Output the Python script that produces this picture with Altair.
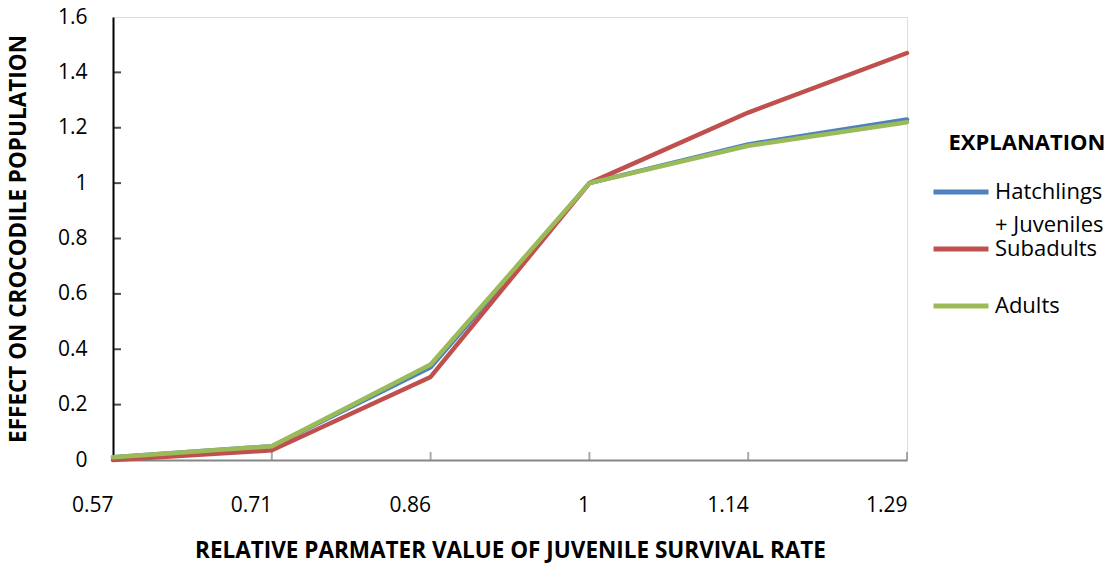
import altair as alt
import pandas as pd

# Relative parameter value of juvenile survival rate (x categories)
survival = ["0.57", "0.71", "0.86", "1", "1.14", "1.29"]

# Effect on crocodile population for each life stage
hatchlings = [0.01, 0.05, 0.335, 1.0, 1.14, 1.23]
subadults = [0.0, 0.035, 0.30, 1.0, 1.255, 1.47]
adults = [0.01, 0.05, 0.345, 1.0, 1.135, 1.22]

series_names = ["Hatchlings + Juveniles", "Subadults", "Adults"]
series_colors = ["#4F81BD", "#C0504D", "#9BBB59"]
y_ticks = [0, 0.2, 0.4, 0.6, 0.8, 1.0, 1.2, 1.4, 1.6]

rows = []
for name, vals in zip(series_names, [hatchlings, subadults, adults]):
    for s, v in zip(survival, vals):
        rows.append({"x": s, "effect": v, "stage": name})
df = pd.DataFrame(rows)

FONT = "Open Sans"
W, H = 794, 443

x_enc = alt.X(
    "x:N",
    sort=survival,
    scale=alt.Scale(type="point", padding=0),
    title="RELATIVE PARMATER VALUE OF JUVENILE SURVIVAL RATE",
    axis=alt.Axis(
        labelAngle=0,
        ticks=False,
        tickSize=0,
        labelPadding=34,
        labelBaseline="top",
        labelFontSize=21,
        labelColor="#000000",
        labelFont=FONT,
        domainColor="#868686",
        domainWidth=2,
        titleFont=FONT,
        titleFontSize=22.5,
        titleFontWeight="bold",
        titleColor="#000000",
        titlePadding=24,
    ),
)

y_scale = alt.Scale(domain=[0, 1.6], nice=False, zero=True)

# Legend key: a long flat stroke (custom path, scaled by sqrt(size)/2)
KEY_PATH = "M-4,0H4"
KEY_SIZE = 189

lines = alt.Chart(df).mark_line(strokeWidth=4.5, strokeJoin="round", strokeCap="round").encode(
    x=x_enc,
    y=alt.Y(
        "effect:Q",
        scale=y_scale,
        title="EFFECT ON CROCODILE POPULATION",
        axis=alt.Axis(
            values=y_ticks,
            format="~g",
            ticks=False,
            tickSize=0,
            grid=False,
            labelPadding=26,
            labelFontSize=21,
            labelColor="#000000",
            labelFont=FONT,
            domainColor="#000000",
            domainWidth=2,
            titleFont=FONT,
            titleFontSize=22.5,
            titleFontWeight="bold",
            titleColor="#000000",
            titlePadding=27,
        ),
    ),
    color=alt.Color(
        "stage:N",
        sort=series_names,
        scale=alt.Scale(domain=series_names, range=series_colors),
        legend=alt.Legend(
            title="EXPLANATION",
            orient="none",
            legendX=836,
            legendY=116,
            padding=0,
            titleFont=FONT,
            titleFontSize=22,
            titleFontWeight="bold",
            titleColor="#000000",
            titleAnchor="middle",
            titlePadding=26,
            labelFont=FONT,
            labelFontSize=22,
            labelColor="#000000",
            labelOffset=23,
            labelExpr="datum.label == 'Hatchlings + Juveniles' ? ['Hatchlings', '+ Juveniles'] : [datum.label, '']",
            symbolType=KEY_PATH,
            symbolSize=KEY_SIZE,
            symbolStrokeWidth=5,
            rowPadding=2,
        ),
    ),
    order=alt.Order("stage_order:Q"),
).transform_calculate(
    stage_order="indexof(['Hatchlings + Juveniles', 'Subadults', 'Adults'], datum.stage)"
)

# Inward tick marks on the value axis
ytick_df = pd.DataFrame({"v": y_ticks[1:-1]})
yticks = alt.Chart(ytick_df).mark_tick(orient="horizontal", size=7, thickness=2, color="#000000").encode(
    y=alt.Y("v:Q", scale=y_scale),
    x=alt.value(4.5),
)

# Inward tick marks on the category axis
xtick_df = pd.DataFrame({"x": survival[1:]})
xticks = alt.Chart(xtick_df).mark_tick(orient="vertical", size=8, thickness=2, color="#868686").encode(
    x=alt.X("x:N", sort=survival, scale=alt.Scale(type="point", padding=0)),
    y=alt.value(H - 4),
)

chart = alt.layer(xticks, yticks, lines).properties(
    width=W,
    height=H,
    autosize=alt.AutoSizeParams(type="none"),
    padding={"left": 113, "top": 17, "right": 205, "bottom": 103},
    background="#ffffff",
).configure_view(
    stroke="#000000", strokeWidth=2
).configure(
    style={"guide-label": {"lineHeight": 33}}
)

chart.save("out.html", embed_options={"renderer": "svg", "actions": False})
